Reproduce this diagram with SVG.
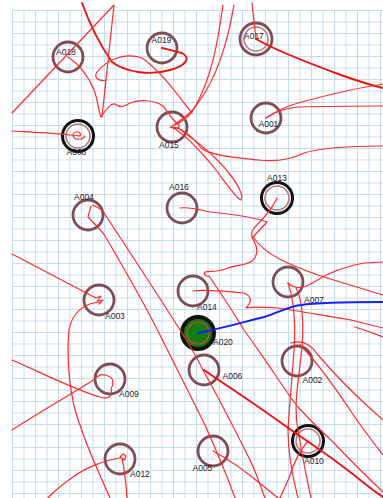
<svg xmlns="http://www.w3.org/2000/svg" width="383" height="498" viewBox="0 0 383 498">
<style>
.ring{fill:none;stroke:#7e4e56;stroke-width:2.8}
.ring2{fill:none;stroke:#b37a80;stroke-width:1.6}
.blk{fill:none;stroke:#111;stroke-width:3}
.lbl{font-family:"Liberation Sans",Arial,sans-serif;font-size:8.5px;fill:#222}
.tr{fill:none;stroke:#ff2a2a;stroke-width:1.2;stroke-linecap:round;stroke-linejoin:round}
.trk{fill:none;stroke:#f01010;stroke-width:1.9;stroke-linecap:round;stroke-linejoin:round}
.blue{fill:none;stroke:#1020ff;stroke-width:2;stroke-linecap:round}
</style>
<defs>
<pattern id="grid" x="12" y="10" width="11.5" height="11.5" patternUnits="userSpaceOnUse">
<path d="M0 0.5H11.5M0.5 0V11.5" stroke="#c4dbef" stroke-width="1" fill="none"/>
</pattern>
</defs>
<rect width="383" height="498" fill="#fff"/>
<rect x="12" y="10" width="371" height="488" fill="url(#grid)"/>

<g id="A018"><circle class="ring" cx="68" cy="57" r="15"/><text class="lbl" x="56" y="55">A018</text></g>
<g id="A019"><circle class="ring" cx="162" cy="48" r="15"/><text class="lbl" x="151.5" y="42.5">A019</text></g>
<g id="A017"><circle class="ring" cx="256" cy="39" r="16"/><circle class="ring2" cx="256" cy="39" r="12"/><text class="lbl" x="244" y="39">A017</text></g>
<g id="A008"><circle class="blk" cx="78" cy="136" r="15.5"/><circle class="ring2" cx="78" cy="136" r="12"/><text class="lbl" x="66.5" y="155">A008</text></g>
<g id="A015"><circle class="ring" cx="172" cy="127" r="15"/><text class="lbl" x="159" y="148">A015</text></g>
<g id="A001"><circle class="ring" cx="266" cy="118" r="15"/><text class="lbl" x="258.5" y="127">A001</text></g>
<g id="A013"><circle class="blk" cx="277" cy="198" r="15.5"/><circle class="ring2" cx="277" cy="198" r="12"/><text class="lbl" x="267" y="181">A013</text></g>
<g id="A016"><circle class="ring" cx="182" cy="208" r="15"/><text class="lbl" x="169" y="190">A016</text></g>
<g id="A004"><circle class="ring" cx="88" cy="215" r="15"/><text class="lbl" x="74" y="200">A004</text></g>
<g id="A014"><circle class="ring" cx="193" cy="291" r="15"/><text class="lbl" x="197" y="309.5">A014</text></g>
<g id="A007"><circle class="ring" cx="288" cy="282" r="15"/><text class="lbl" x="304" y="302.5">A007</text></g>
<g id="A003"><circle class="ring" cx="99" cy="300" r="15"/><text class="lbl" x="105" y="319">A003</text></g>
<g id="A020"><circle cx="198" cy="333" r="16" fill="#0f7d12" stroke="#111" stroke-width="4"/><circle cx="198" cy="333" r="11" fill="none" stroke="#c44" stroke-width="1.2"/><text class="lbl" x="213" y="345">A020</text></g>
<g id="A009"><circle class="ring" cx="110" cy="379" r="15"/><text class="lbl" x="119" y="397">A009</text></g>
<g id="A006"><circle class="ring" cx="204" cy="370" r="15"/><text class="lbl" x="222.5" y="379">A006</text></g>
<g id="A002"><circle class="ring" cx="297" cy="361" r="15"/><text class="lbl" x="302.5" y="382.5">A002</text></g>
<g id="A005"><circle class="ring" cx="213" cy="451" r="15"/><text class="lbl" x="192.5" y="471">A005</text></g>
<g id="A010"><circle class="blk" cx="308" cy="441" r="15.5"/><circle class="ring2" cx="308" cy="441" r="12"/><text class="lbl" x="304" y="464">A010</text></g>
<g id="A012"><circle class="ring" cx="120" cy="459" r="15"/><text class="lbl" x="130" y="477">A012</text></g>

<g id="connectors">
<path class="trk" d="M82,3 C90,25 100,45 112,62 C125,72 150,76 170,70 C185,66 192,58 182,53 C175,51 170,50 162,48"/>
<path class="tr" d="M192,113 C180,98 160,70 142,58 C125,52 106,60 97,72 C93,78 100,82 106,80 L102,117 L114,5 L12,113"/>
<path class="tr" d="M68,57 C80,65 88,75 94,90 C98,100 98,110 101,117 C106,110 110,103 115,104 C120,108 124,107 130,103 C140,99 155,100 163,106 C168,112 172,120 178,124 C182,127 176,130 170,127"/>
<path class="tr" d="M223,5 C218,40 212,80 192,112 C185,120 178,124 172,126"/>
<path class="tr" d="M234,5 C228,40 218,75 200,100 C195,108 190,114 175,124"/>
<path class="tr" d="M172,127 C185,135 200,150 216,170 C228,186 236,198 241,200 C244,196 238,184 228,172 C215,155 195,140 178,128"/>
<path class="tr" d="M172,127 C185,128 195,140 201,148 C210,155 230,157 258,160 C275,162 290,160 304,153 C320,148 350,146 383,146"/>
<path class="tr" d="M252,3 C253,15 255,28 256,39"/>
<path class="trk" d="M256,39 C275,50 300,60 341,75 C355,80 370,85 383,88"/>
<path class="tr" d="M266,118 C273,113 285,107 298,103 C320,97 350,89 383,84"/>
<path class="tr" d="M266,118 C275,112 285,108 298,107 C330,106 360,106 383,106"/>
<path class="tr" d="M12,131 C30,132 55,133 70,135 L80,136 C82,132 76,130 73,134 C72,140 82,141 85,136"/>
<path class="tr" d="M180,208 C195,206 205,213 220,213 C240,215 255,218 267,222 L253,237 C265,255 290,265 318,275 C340,282 360,288 383,295"/>
<path class="tr" d="M277,198 C272,210 262,220 254,228 C250,233 252,238 254,241 C258,248 258,256 252,261 C245,266 235,265 228,268 C220,272 212,271 205,272 C203,274 206,277 209,276 C222,295 235,315 244,330 C255,345 265,360 274,373 C282,385 290,397 298,407 C310,420 320,430 331,440 C350,460 365,475 383,492"/>
<path class="tr" d="M288,283 C295,290 305,288 314,282 C325,275 340,267 364,263 L383,262"/>
<path class="tr" d="M288,283 C294,300 296,320 294,350 C292,380 289,410 288,430 C288,455 292,475 298,498"/>
<path class="tr" d="M296,288 C303,300 305,330 300,365 C297,390 294,410 298,430 C302,455 306,475 311,498"/>
<path class="tr" d="M193,291 C200,290 215,290 244,293 C252,296 252,302 246,308 C250,307 265,307 278,308 C300,311 325,316 351,320 L383,328"/>
<path class="tr" d="M355,327 C365,330 375,334 383,337"/>
<path class="tr" d="M91,206 L88,217 C95,225 100,228 105,236 C125,270 145,305 160,335 C175,365 190,395 205,425 C215,448 225,470 235,498"/>
<path class="tr" d="M93,205 L102,210 C125,245 155,290 180,330 C190,345 198,360 204,372 C220,400 240,440 250,460 C256,472 260,485 265,498"/>
<path class="tr" d="M12,254 L96,298 L101,296 L97,301 L103,300 L99,304"/>
<path class="tr" d="M100,302 C85,303 72,312 69,330 C66,360 70,400 80,425 C88,450 100,475 110,498"/>
<path class="tr" d="M12,360 C40,372 75,390 100,397 C110,400 113,395 111,389 C114,384 114,378 108,376 C103,373 98,375 95,379 C70,395 40,412 12,430"/>
<path class="tr" d="M120,458 C105,460 85,468 73,477 C63,484 55,490 48,498"/>
<path class="tr" d="M122,459 C125,470 126,485 127,498 M120,457 L123,454 L126,456 L124,460 Z"/>
<path class="trk" d="M204,370 C215,378 250,400 291,430 C310,443 330,456 350,472 C362,481 372,490 383,497"/>
<path class="tr" d="M213,451 C230,460 250,475 262,485 L278,498"/>
<path class="tr" d="M308,441 C300,450 293,465 289,478 L280,498"/>
<path class="tr" d="M291,343 C300,340 310,343 318,355 C335,375 360,400 383,420"/>
<path class="tr" d="M300,345 C315,360 330,380 350,410 C362,428 373,442 383,455"/>
<path class="blue" d="M198,333 C215,330 240,323 264,317 C280,312 290,306 301,305 C320,302 350,302 383,302"/>
</g>
</svg>
